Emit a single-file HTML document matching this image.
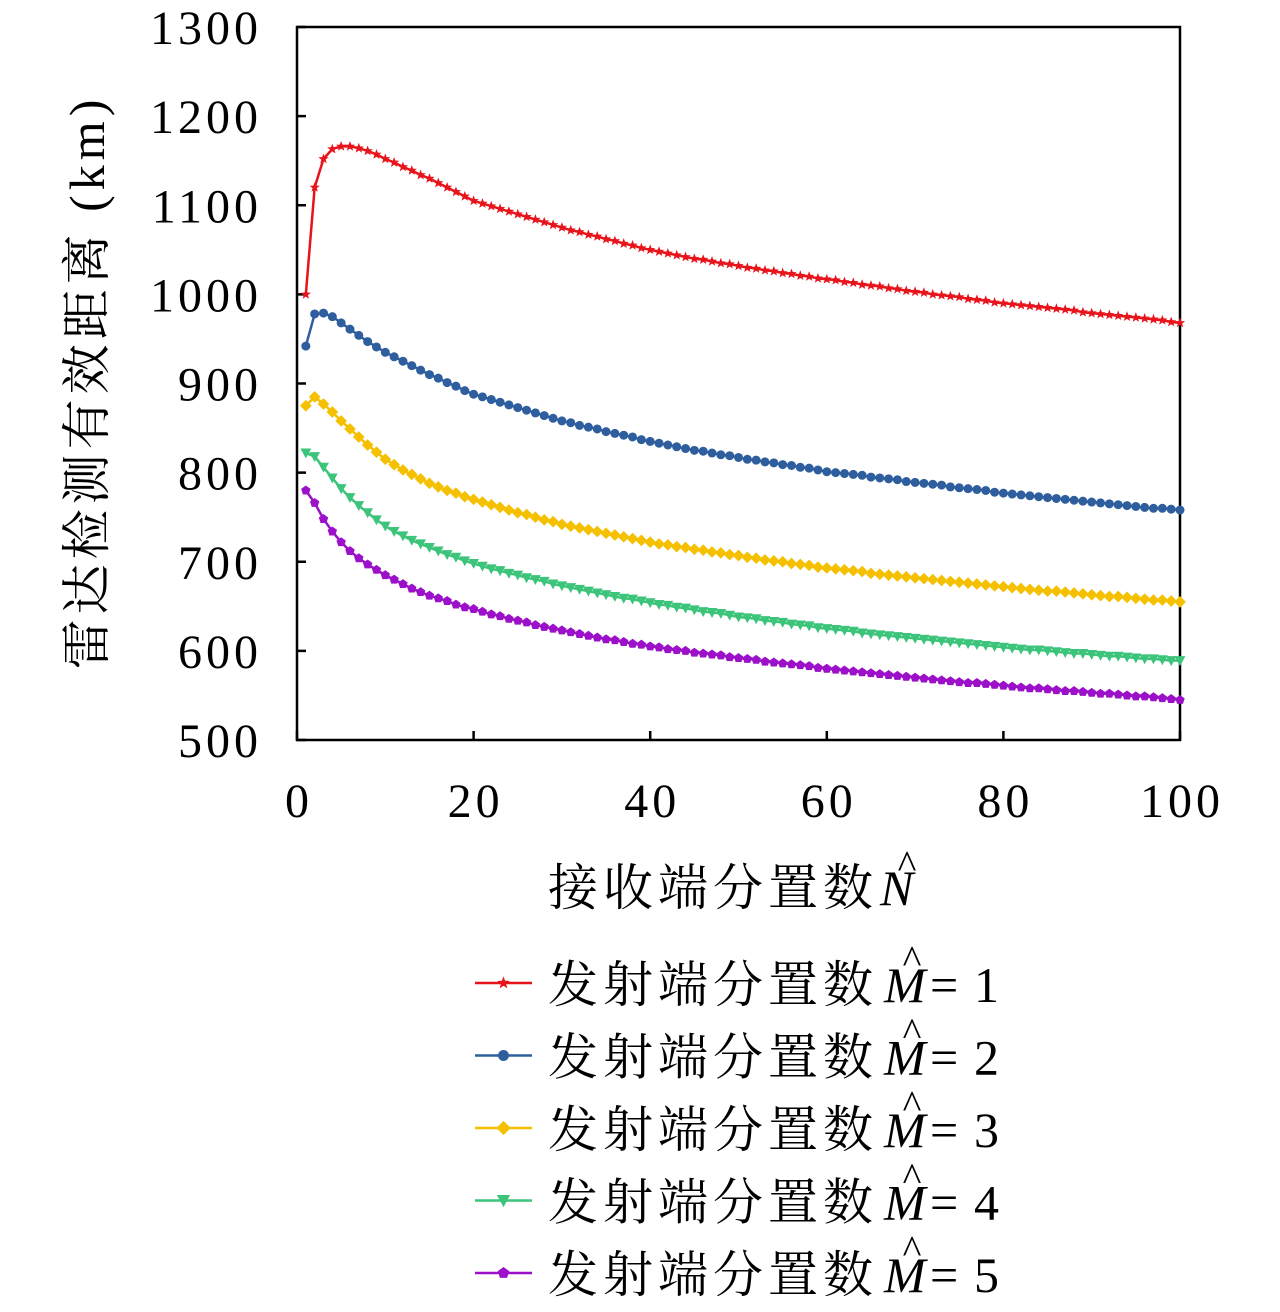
<!DOCTYPE html>
<html><head><meta charset="utf-8"><style>
html,body{margin:0;padding:0;background:#fff}
svg text{font-family:"Liberation Serif","Noto Serif CJK SC",serif}
</style></head><body>
<svg id="chart" width="1280" height="1307" viewBox="0 0 1280 1307" xmlns="http://www.w3.org/2000/svg">
<g id="axes"></g><g id="series"></g><g id="legend"></g>
</svg>
<script>
const xTicks=[0,20,40,60,80,100];
const yTicks=[500,600,700,800,900,1000,1100,1200,1300];
const seriesLabels=["发射端分置数","发射端分置数","发射端分置数","发射端分置数","发射端分置数"];
const mValues=["1","2","3","4","5"];
const colors=["#e8141c","#2e5e9e","#f5c000","#3cc47a","#9b10c8"];
const markers=["star","circle","diamond","tri","pent"];
const s1=[1000,1120,1152,1163,1166,1166,1164,1161,1157,1152,1148,1143,1139,1134,1130,1125,1120,1115,1110,1105,1102,1099,1096,1093,1090,1087,1084,1081,1078,1075,1072,1070,1067,1065,1062,1060,1057,1055,1052,1050,1048,1046,1044,1042,1040,1039,1037,1035,1034,1032,1030,1029,1027,1026,1024,1023,1021,1020,1018,1017,1016,1014,1013,1011,1010,1009,1007,1006,1004,1003,1002,1000,999,998,997,995,994,993,991,990,989,988,987,986,985,984,983,982,980,979,978,977,976,975,974,973,972,971,969,968];
const s2=[942,978,979,975,968,961,954,947,941,935,930,925,920,915,910,906,901,897,892,888,885,882,879,876,873,870,867,864,861,858,856,853,851,849,846,844,842,840,837,835,833,831,829,827,825,824,822,820,819,817,815,814,812,811,809,808,806,805,803,801,800,799,798,797,795,794,793,792,790,789,788,787,786,784,783,782,781,780,778,777,776,775,774,773,772,771,770,769,768,767,766,765,764,763,762,761,760,760,759,758];
const s3=[875,885,877,868,858,849,840,831,823,815,809,803,798,793,788,784,780,777,773,770,767,764,761,758,755,753,750,747,745,742,740,738,736,734,732,730,728,726,724,722,720,719,717,716,714,713,711,710,708,707,705,704,702,701,700,698,697,696,694,693,692,691,690,689,687,686,685,684,683,682,681,680,679,678,677,676,675,674,673,672,671,670,669,668,667,667,666,665,664,663,662,661,661,660,659,658,657,657,656,655];
const s4=[822,818,806,794,782,772,763,755,747,740,734,729,724,720,716,712,708,705,701,698,695,692,690,687,685,682,680,678,675,673,671,669,667,665,663,661,659,658,656,654,652,651,649,648,646,644,643,642,640,638,637,636,634,633,632,630,629,628,626,625,624,623,622,620,619,618,617,616,615,614,613,612,611,610,609,608,607,606,605,604,603,602,601,601,600,599,598,597,597,596,595,594,594,593,592,591,591,590,589,589];
const s5=[780,766,748,734,722,712,704,697,691,685,680,675,670,666,662,659,656,652,649,647,644,641,639,636,634,632,629,627,625,623,621,619,617,615,613,612,610,608,607,605,604,602,601,600,598,597,596,595,593,592,591,590,588,587,586,585,584,583,581,580,579,578,577,576,575,574,573,572,571,570,569,568,567,566,565,564,564,563,562,561,560,559,558,558,557,556,555,555,554,553,552,552,551,550,549,549,548,547,546,545];
const allSeries=[s1,s2,s3,s4,s5];

const NS="http://www.w3.org/2000/svg";
const L=297,R=1180,T=27,B=740;
const xs=v=>L+(v-0)/(100-0)*(R-L);
const ys=v=>B-(v-500)/(1300-500)*(B-T);
function mk(tag,attrs,parent){const e=document.createElementNS(NS,tag);for(const k in attrs)e.setAttribute(k,attrs[k]);parent.appendChild(e);return e;}
const axes=document.getElementById('axes');
let fr=mk('rect',{x:L,y:T,width:R-L,height:B-T,fill:'none',stroke:'#000','stroke-width':2.5},axes);


xTicks.forEach(t=>{
  let l=mk('line',{x1:xs(t),x2:xs(t),y1:B,y2:B-9,stroke:'#000','stroke-width':2.5},axes);
  
  
  let tx=mk('text',{x:xs(t)+2,y:817,'font-size':48,'letter-spacing':4,'text-anchor':'middle'},axes);tx.textContent=t;
  
  
});
yTicks.forEach(t=>{
  let l=mk('line',{x1:L,x2:L+9,y1:ys(t),y2:ys(t),stroke:'#000','stroke-width':2.5},axes);
  
  
  let tx=mk('text',{x:262,y:ys(t)+17,'font-size':48,'letter-spacing':4,'text-anchor':'end'},axes);tx.textContent=t;
  
  
});
let yt=mk('text',{x:0,y:0,'font-size':50,'letter-spacing':5,'text-anchor':'middle',transform:'translate(104,382) rotate(-90)'},axes);
yt.textContent='雷达检测有效距离 (km)';


let xt=mk('text',{x:548,y:905,'font-size':50,'letter-spacing':5},axes);
xt.textContent='接收端分置数';


let xn=mk('text',{x:880,y:905,'font-size':50,'font-style':'italic'},axes);xn.textContent='N';


let xh=mk('text',{x:907,y:878,'font-size':40,'text-anchor':'middle'},axes);xh.textContent='^';



function marker(type,x,y,c,parent,s){
  s=s||4.5;let e;
  if(type==='circle')e=mk('circle',{cx:x,cy:y,r:s,fill:c},parent);
  else if(type==='diamond')e=mk('polygon',{points:`${x},${y-s*1.3} ${x+s*1.3},${y} ${x},${y+s*1.3} ${x-s*1.3},${y}`,fill:c},parent);
  else if(type==='tri')e=mk('polygon',{points:`${x-s*1.2},${y-s} ${x+s*1.2},${y-s} ${x},${y+s*1.2}`,fill:c},parent);
  else if(type==='pent'){let p=[];for(let i=0;i<5;i++){let a=-Math.PI/2+i*2*Math.PI/5;p.push((x+s*1.1*Math.cos(a))+','+(y+s*1.1*Math.sin(a)));}e=mk('polygon',{points:p.join(' '),fill:c},parent);}
  else {let p=[];for(let i=0;i<10;i++){let a=-Math.PI/2+i*Math.PI/5,r=i%2?s*0.5:s*1.2;p.push((x+r*Math.cos(a))+','+(y+r*Math.sin(a)));}e=mk('polygon',{points:p.join(' '),fill:c},parent);}
  return e;
}
const sg=document.getElementById('series');
allSeries.forEach((d,si)=>{
  const g=mk('g',{},sg);
  
  
  const pts=d.map((v,i)=>xs(i+1)+','+ys(v)).join(' ');
  let pl=mk('polyline',{points:pts,fill:'none',stroke:colors[si],'stroke-width':2.5},g);
  
  
  d.forEach((v,i)=>{
    let m=marker(markers[si],xs(i+1),ys(v),colors[si],g);
    
    
  });
});
const lg=document.getElementById('legend');
mValues.forEach((m,i)=>{
  const y=983+i*72.5;
  const g=mk('g',{},lg);
  
  
  mk('line',{x1:475,x2:532,y1:y,y2:y,stroke:colors[i],'stroke-width':2.5},g);
  marker(markers[i],503.5,y,colors[i],g,5.5);
  let t=mk('text',{x:548,y:y+19,'font-size':50,'letter-spacing':5},g);
  t.textContent=seriesLabels[i];
  let tm=mk('text',{x:884,y:y+19,'font-size':50,'font-style':'italic'},g);tm.textContent='M';
  let te=mk('text',{x:930,y:y+19,'font-size':50},g);te.textContent='=';
  let td=mk('text',{x:974,y:y+19,'font-size':50},g);td.textContent=m;
  let h=mk('text',{x:912,y:y-10,'font-size':40,'text-anchor':'middle'},g);h.textContent='^';
});
</script>
</body></html>
